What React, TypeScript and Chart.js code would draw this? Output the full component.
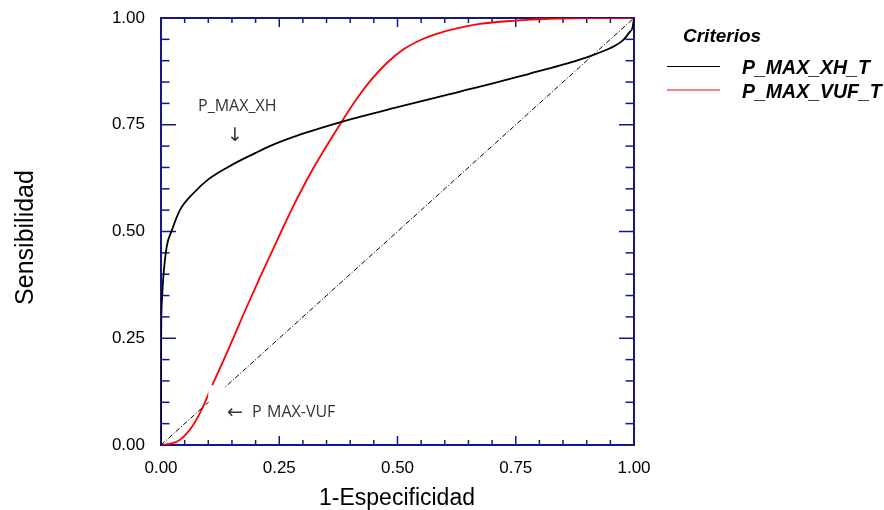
import React, { useEffect, useRef } from "react";
import { Chart, registerables } from "chart.js";

Chart.register(...registerables);

// ROC curve P_MAX_XH_T (1-especificidad, sensibilidad)
const xhFpr = [0, 0.0003, 0.0015, 0.005, 0.012, 0.023, 0.04, 0.068, 0.1, 0.15, 0.2, 0.23, 0.3, 0.382, 0.5, 0.6, 0.674, 0.78, 0.844, 0.9, 0.949, 0.977, 0.99, 0.997, 1];
const xhTpr = [0, 0.25, 0.33, 0.394, 0.464, 0.503, 0.55, 0.589, 0.622, 0.656, 0.684, 0.7, 0.729, 0.757, 0.791, 0.819, 0.839, 0.87, 0.889, 0.908, 0.929, 0.948, 0.966, 0.978, 1];

// ROC curve P_MAX_VUF_T
const vufFpr = [0, 0.02, 0.04, 0.068, 0.089, 0.104, 0.139, 0.174, 0.209, 0.245, 0.28, 0.322, 0.382, 0.412, 0.442, 0.477, 0.512, 0.55, 0.583, 0.674, 0.75, 0.82, 0.9, 1];
const vufTpr = [0, 0.003, 0.012, 0.047, 0.09, 0.129, 0.215, 0.305, 0.392, 0.478, 0.56, 0.648, 0.757, 0.808, 0.852, 0.894, 0.926, 0.949, 0.963, 0.986, 0.994, 0.998, 1, 1];

// Reference diagonal
const diagFpr = [0, 1];
const diagTpr = [0, 1];

const seriesNames = ["P_MAX_XH_T", "P_MAX_VUF_T"];
const seriesColors = ["#000000", "#ff0000"];
const legendTitle = "Criterios";
const xTitle = "1-Especificidad";
const yTitle = "Sensibilidad";
const tickMarks = [0, 0.05, 0.1, 0.15, 0.2, 0.25, 0.3, 0.35, 0.4, 0.45, 0.5, 0.55, 0.6, 0.65, 0.7, 0.75, 0.8, 0.85, 0.9, 0.95, 1];

const NAVY = "#16168a";
const SANS = "'Liberation Sans', Arial, sans-serif";

const framePlugin = {
  id: "frameTicks",
  beforeDatasetsDraw(chart: any) {
    const { ctx, chartArea: a, scales } = chart;
    const x = scales.x;
    const y = scales.y;
    ctx.save();
    ctx.strokeStyle = NAVY;
    ctx.lineWidth = 1.5;
    const seg = (x1: number, y1: number, x2: number, y2: number) => {
      ctx.beginPath();
      ctx.moveTo(x1, y1);
      ctx.lineTo(x2, y2);
      ctx.stroke();
    };
    for (const v of tickMarks) {
      const major = Math.abs(v * 4 - Math.round(v * 4)) < 1e-6;
      const px = x.getPixelForValue(v);
      const lx = major ? 9 : 5;
      seg(px, a.bottom, px, a.bottom - lx);
      seg(px, a.top, px, a.top + lx);
      const py = y.getPixelForValue(v);
      const ly = major ? 15 : 8.5;
      seg(a.left, py, a.left + ly, py);
      seg(a.right, py, a.right - ly, py);
    }
    ctx.lineWidth = 2;
    ctx.strokeRect(a.left, a.top, a.right - a.left, a.bottom - a.top);
    ctx.restore();
  },
  afterDraw(chart: any) {
    const { ctx, scales } = chart;
    const x = scales.x;
    const y = scales.y;
    ctx.save();
    // white label box covering lines (as in reference)
    const bx1 = x.getPixelForValue(0.1);
    const bx2 = x.getPixelForValue(0.133);
    const by1 = y.getPixelForValue(0.14);
    const by2 = y.getPixelForValue(0.1);
    ctx.fillStyle = "#ffffff";
    ctx.fillRect(bx1, by1, bx2 - bx1, by2 - by1);

    // annotations
    ctx.fillStyle = "#333333";
    ctx.font = "16px 'Open Sans', Lato, sans-serif";
    ctx.textAlign = "left";
    ctx.textBaseline = "alphabetic";
    ctx.fillText("P_MAX_XH", 198, 111);
    ctx.font = "19px 'DejaVu Sans', sans-serif";
    ctx.textAlign = "center";
    ctx.fillText("↓", 235, 141);
    ctx.textAlign = "left";
    ctx.fillText("←", 227, 418);
    ctx.font = "16px 'Open Sans', Lato, sans-serif";
    ctx.fillText("P", 252, 417);
    ctx.fillText("MAX-VUF", 267, 417);

    // axis titles
    ctx.fillStyle = "#000000";
    ctx.font = `23px ${SANS}`;
    ctx.textAlign = "center";
    ctx.fillText(xTitle, 397, 505);
    ctx.save();
    ctx.translate(32.5, 237.5);
    ctx.rotate(-Math.PI / 2);
    ctx.font = `25px ${SANS}`;
    ctx.fillText(yTitle, 0, 0);
    ctx.restore();

    // legend
    ctx.textAlign = "left";
    ctx.font = `italic bold 19px ${SANS}`;
    ctx.fillText(legendTitle, 683, 42);
    ctx.font = `italic bold 19.5px ${SANS}`;
    const rows = [{ ly: 66.5, ty: 74 }, { ly: 90, ty: 97.5 }];
    rows.forEach((r, i) => {
      ctx.strokeStyle = seriesColors[i];
      ctx.lineWidth = 1;
      ctx.beginPath();
      ctx.moveTo(667, r.ly);
      ctx.lineTo(720, r.ly);
      ctx.stroke();
      ctx.fillStyle = "#000000";
      ctx.fillText(seriesNames[i], 742, r.ty);
    });
    ctx.restore();
  },
};

export default function App() {
  const ref = useRef<HTMLCanvasElement | null>(null);

  useEffect(() => {
    document.body.style.margin = "0";
    const canvas = ref.current;
    if (!canvas) return;
    const toPts = (xs: number[], ys: number[]) => xs.map((v, i) => ({ x: v, y: ys[i] }));
    const chart = new Chart(canvas, {
      type: "scatter",
      data: {
        datasets: [
          {
            label: "diagonal",
            data: toPts(diagFpr, diagTpr),
            showLine: true,
            borderColor: "#000000",
            borderWidth: 1,
            borderDash: [5, 2, 1, 2],
            pointRadius: 0,
          },
          {
            label: seriesNames[0],
            data: toPts(xhFpr, xhTpr),
            showLine: true,
            borderColor: seriesColors[0],
            borderWidth: 1.8,
            pointRadius: 0,
            cubicInterpolationMode: "monotone",
          },
          {
            label: seriesNames[1],
            data: toPts(vufFpr, vufTpr),
            showLine: true,
            borderColor: seriesColors[1],
            borderWidth: 1.8,
            pointRadius: 0,
            cubicInterpolationMode: "monotone",
          },
        ],
      },
      options: {
        responsive: false,
        animation: false,
        events: [],
        layout: { padding: { left: 0, right: 250, top: 18, bottom: 0 } },
        plugins: {
          legend: { display: false },
          tooltip: { enabled: false },
        },
        scales: {
          x: {
            type: "linear",
            min: 0,
            max: 1,
            grid: { display: false, drawTicks: false },
            border: { display: false },
            ticks: {
              stepSize: 0.25,
              padding: 13,
              color: "#000000",
              font: { family: SANS, size: 17 },
              maxRotation: 0,
              callback: (v: any) => Number(v).toFixed(2),
            },
            afterFit: (s: any) => {
              s.height = 65;
              s.paddingLeft = 0;
              s.paddingRight = 0;
            },
          },
          y: {
            type: "linear",
            min: 0,
            max: 1,
            grid: { display: false, drawTicks: false },
            border: { display: false },
            ticks: {
              stepSize: 0.25,
              padding: 16,
              color: "#000000",
              font: { family: SANS, size: 17 },
              callback: (v: any) => Number(v).toFixed(2),
            },
            afterFit: (s: any) => {
              s.width = 161;
              s.paddingTop = 0;
              s.paddingBottom = 0;
            },
          },
        },
      },
      plugins: [framePlugin],
    } as any);
    return () => chart.destroy();
  }, []);

  return (
    <canvas
      ref={ref}
      width={884}
      height={510}
      style={{ display: "block", width: 884, height: 510 }}
    />
  );
}
